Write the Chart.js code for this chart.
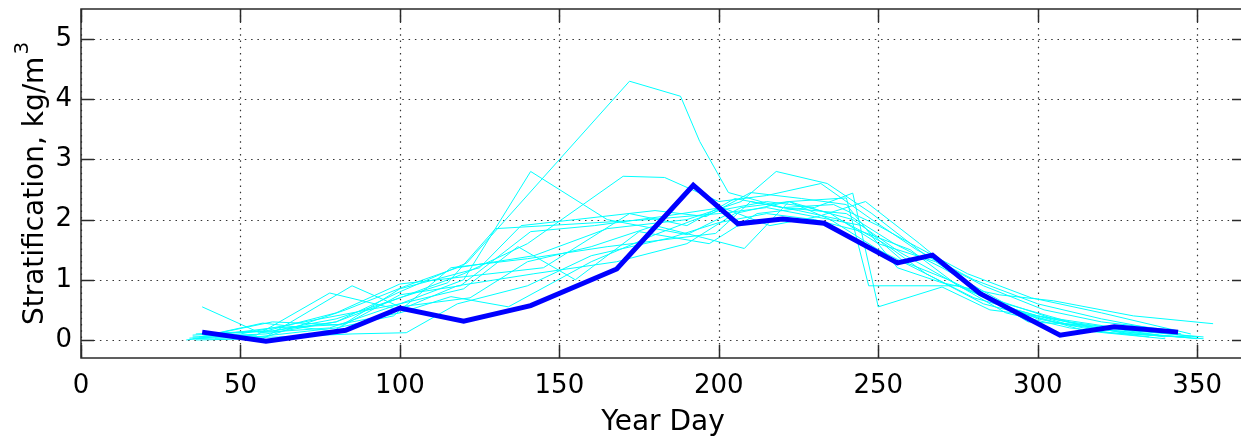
<!DOCTYPE html>
<html>
<head>
<meta charset="utf-8">
<title>Stratification by year day</title>
<script src="https://cdn.jsdelivr.net/npm/chart.js@4/dist/chart.umd.min.js"></script>
<style>
  html, body { margin: 0; padding: 0; background: #fff; overflow: hidden; }
  #wrap { width: 1241px; height: 443px; overflow: hidden; }
  canvas { display: block; }
</style>
</head>
<body>
<div id="wrap"><canvas id="myChart" width="1246" height="443"></canvas></div>
<script>
// thick blue line
var meanDays   = [38, 58, 83, 100, 120, 141, 168, 192, 206, 220, 233, 256, 267, 282, 307, 324, 344];
var meanValues = [0.13, -0.02, 0.16, 0.53, 0.31, 0.57, 1.18, 2.57, 1.93, 2.01, 1.94, 1.28, 1.41, 0.77, 0.08, 0.22, 0.13];

// thin cyan lines, one per year
var yearDays = [
  [35, 58, 80, 100, 121, 172, 188, 194, 203, 220, 240, 255, 270, 290, 310, 330, 352],
  [38, 56, 78, 100, 120, 141, 165, 190, 207, 222, 235, 250, 265, 283, 305, 325, 350],
  [35, 60, 80, 100, 120, 140, 170, 183, 200, 215, 232, 248, 262, 280, 300, 320, 345],
  [40, 58, 83, 102, 118, 142, 165, 190, 207, 218, 234, 248, 265, 283, 302, 320, 344],
  [36, 57, 85, 100, 122, 140, 160, 180, 195, 208, 222, 235, 250, 268, 285, 305, 328, 348],
  [37, 60, 80, 100, 116, 134, 160, 180, 200, 215, 230, 242, 250, 270, 285, 300, 325, 350],
  [34, 55, 78, 100, 118, 142, 168, 190, 205, 222, 240, 247, 275, 300, 322, 345],
  [38, 60, 80, 100, 115, 130, 178, 200, 215, 230, 245, 258, 272, 290, 310, 330, 352],
  [35, 55, 80, 98, 116, 140, 165, 199, 210, 225, 238, 252, 265, 280, 300, 318, 340],
  [40, 60, 82, 100, 125, 138, 155, 180, 196, 210, 226, 240, 256, 270, 288, 305, 330, 355],
  [33, 50, 75, 100, 120, 137, 155, 175, 197, 212, 228, 242, 257, 272, 290, 310, 335],
  [42, 62, 85, 102, 118, 140, 160, 185, 200, 215, 230, 245, 260, 275, 292, 315, 340],
  [36, 58, 80, 100, 120, 145, 172, 190, 205, 220, 236, 250, 262, 278, 298, 320, 348],
  [38, 57, 79, 100, 119, 141, 161, 182, 201, 216, 231, 246, 263, 280, 297, 315, 338]
];
var yearValues = [
  [0.05, 0.10, 0.30, 0.80, 1.28, 4.30, 4.05, 3.30, 2.45, 2.20, 2.10, 1.60, 1.20, 0.60, 0.30, 0.15, 0.05],
  [0.55, 0.12, 0.20, 0.60, 1.00, 2.80, 2.00, 1.75, 2.20, 2.30, 2.00, 1.50, 1.10, 0.60, 0.30, 0.15, 0.02],
  [0.08, 0.15, 0.30, 0.70, 1.10, 1.60, 2.72, 2.70, 2.30, 2.40, 2.60, 2.00, 1.50, 1.00, 0.60, 0.35, 0.10],
  [0.10, 0.05, 0.50, 0.90, 1.20, 1.40, 1.85, 2.00, 2.30, 2.80, 2.60, 2.10, 1.40, 0.90, 0.50, 0.30, 0.15],
  [0.00, 0.02, 0.90, 0.55, 0.70, 1.30, 1.55, 1.90, 1.70, 1.52, 2.30, 2.10, 1.60, 1.30, 0.70, 0.35, 0.10, 0.05],
  [0.05, 0.20, 0.25, 0.45, 0.72, 0.55, 1.30, 1.75, 2.15, 2.30, 2.20, 2.44, 0.55, 0.88, 0.50, 0.40, 0.20, 0.05],
  [0.03, 0.08, 0.78, 0.50, 0.90, 1.10, 1.30, 1.60, 2.10, 2.30, 2.36, 0.90, 0.90, 0.35, 0.12, 0.05],
  [0.10, 0.15, 0.35, 0.70, 0.95, 1.85, 2.00, 2.10, 2.20, 2.05, 1.90, 1.30, 1.00, 0.55, 0.25, 0.10, 0.02],
  [0.02, 0.05, 0.20, 0.40, 1.20, 1.35, 1.55, 1.77, 2.30, 2.15, 2.00, 1.60, 1.10, 0.70, 0.40, 0.20, 0.05],
  [0.08, 0.30, 0.25, 0.85, 1.20, 1.90, 2.00, 2.15, 2.05, 2.45, 2.35, 2.25, 1.20, 0.95, 0.75, 0.65, 0.40, 0.27],
  [0.00, 0.10, 0.35, 0.60, 0.85, 1.55, 1.00, 1.80, 1.60, 2.10, 2.20, 2.00, 1.45, 1.00, 0.45, 0.20, 0.05],
  [0.03, 0.05, 0.10, 0.12, 0.60, 0.90, 1.40, 1.70, 1.95, 2.10, 2.00, 1.80, 1.50, 0.90, 0.50, 0.15, 0.02],
  [0.10, 0.15, 0.45, 0.93, 1.05, 1.20, 2.10, 1.90, 2.35, 2.20, 2.25, 1.90, 1.55, 1.10, 0.70, 0.45, 0.10],
  [0.06, 0.28, 0.15, 0.75, 0.90, 1.80, 1.90, 2.05, 2.20, 1.90, 2.05, 2.30, 1.60, 0.85, 0.30, 0.25, 0.08]
];

var xTicks = [0, 50, 100, 150, 200, 250, 300, 350];
var yTicks = [0, 1, 2, 3, 4, 5];

var yTitle = 'Stratification, kg/m';
var yTitleSup = '3';

const TICK_LEN = 13;

function toPoints(days, values) {
  return days.map((d, i) => ({x: d, y: values[i]}));
}

// MATLAB style axes: dotted grid under the lines, box and inward ticks on top
const matlabAxes = {
  id: 'matlabAxes',
  beforeDatasetsDraw(chart) {
    const {ctx, chartArea: a, scales: {x, y}} = chart;
    ctx.save();
    ctx.strokeStyle = '#333';
    ctx.lineWidth = 1.2;
    ctx.setLineDash([1.5, 4.8]);
    x.ticks.forEach(t => {
      let px = Math.round(x.getPixelForValue(t.value)) + 0.5;
      ctx.beginPath();
      ctx.moveTo(px, a.top);
      ctx.lineTo(px, a.bottom);
      ctx.stroke();
    });
    y.ticks.forEach(t => {
      let py = Math.round(y.getPixelForValue(t.value)) + 0.5;
      ctx.beginPath();
      ctx.moveTo(a.left, py);
      ctx.lineTo(a.right, py);
      ctx.stroke();
    });
    ctx.restore();
  },
  afterDatasetsDraw(chart) {
    const {ctx, chartArea: a, scales: {x, y}} = chart;
    ctx.save();
    ctx.strokeStyle = '#2a2a2a';
    ctx.lineWidth = 1.5;
    ctx.setLineDash([]);
    ctx.strokeRect(a.left, a.top, a.right - a.left, a.bottom - a.top);
    ctx.beginPath();
    x.ticks.forEach(t => {
      let px = Math.round(x.getPixelForValue(t.value)) + 0.5;
      ctx.moveTo(px, a.bottom);
      ctx.lineTo(px, a.bottom - TICK_LEN);
      ctx.moveTo(px, a.top);
      ctx.lineTo(px, a.top + TICK_LEN);
    });
    y.ticks.forEach(t => {
      let py = Math.round(y.getPixelForValue(t.value)) + 0.5;
      ctx.moveTo(a.left, py);
      ctx.lineTo(a.left + TICK_LEN, py);
      ctx.moveTo(a.right, py);
      ctx.lineTo(a.right - TICK_LEN, py);
    });
    ctx.stroke();
    ctx.restore();
  },
  // y title with a real superscript
  afterDraw(chart) {
    const {ctx, chartArea: a} = chart;
    ctx.save();
    ctx.translate(43, (a.top + a.bottom) / 2);
    ctx.rotate(-Math.PI / 2);
    ctx.fillStyle = '#000';
    ctx.textBaseline = 'alphabetic';
    ctx.textAlign = 'left';
    ctx.font = '28px "DejaVu Sans"';
    let mainW = ctx.measureText(yTitle).width;
    ctx.font = '20px "DejaVu Sans"';
    let supW = ctx.measureText(yTitleSup).width;
    let start = -(mainW + supW + 2) / 2;
    ctx.font = '28px "DejaVu Sans"';
    ctx.fillText(yTitle, start, 0);
    ctx.font = '20px "DejaVu Sans"';
    ctx.fillText(yTitleSup, start + mainW + 2, -15);
    ctx.restore();
  }
};

function noLabelPadding(scale) {
  scale.paddingTop = 0;
  scale.paddingBottom = 0;
  scale.paddingLeft = 0;
  scale.paddingRight = 0;
}

function createChart() {
  var datasets = [{
    data: toPoints(meanDays, meanValues),
    borderColor: '#0000ff',
    borderWidth: 5,
    borderJoinStyle: 'miter',
    pointRadius: 0,
    tension: 0
  }];
  yearDays.forEach((days, i) => {
    datasets.push({
      data: toPoints(days, yearValues[i]),
      borderColor: '#00ffff',
      borderWidth: 1,
      pointRadius: 0,
      tension: 0
    });
  });

  new Chart("myChart", {
    type: "line",
    data: { datasets: datasets },
    plugins: [matlabAxes],
    options: {
      responsive: false,
      animation: false,
      devicePixelRatio: 1,
      events: [],
      layout: { padding: { top: 9, right: 1, left: 0, bottom: 0 } },
      plugins: {
        legend: { display: false },
        tooltip: { enabled: false }
      },
      scales: {
        x: {
          type: 'linear',
          min: 0,
          max: 365,
          afterBuildTicks: function (scale) {
            scale.ticks = xTicks.map(v => ({value: v}));
          },
          afterFit: function (scale) {
            scale.height = 85;
            noLabelPadding(scale);
          },
          grid: { display: false, drawTicks: false },
          border: { display: false },
          ticks: {
            autoSkip: false,
            maxRotation: 0,
            padding: 13,
            color: '#000',
            font: { family: 'DejaVu Sans', size: 26 }
          },
          title: {
            display: true,
            text: 'Year Day',
            color: '#000',
            padding: { top: 0, bottom: 3 },
            font: { family: 'DejaVu Sans', size: 28 }
          }
        },
        y: {
          type: 'linear',
          min: -0.3,
          max: 5.5,
          afterBuildTicks: function (scale) {
            scale.ticks = yTicks.map(v => ({value: v}));
          },
          afterFit: function (scale) {
            scale.width = 81;
            noLabelPadding(scale);
          },
          grid: { display: false, drawTicks: false },
          border: { display: false },
          ticks: {
            padding: 9,
            color: '#000',
            font: { family: 'DejaVu Sans', size: 26 }
          },
          title: { display: false }
        }
      }
    }
  });
}

createChart();
</script>
</body>
</html>
